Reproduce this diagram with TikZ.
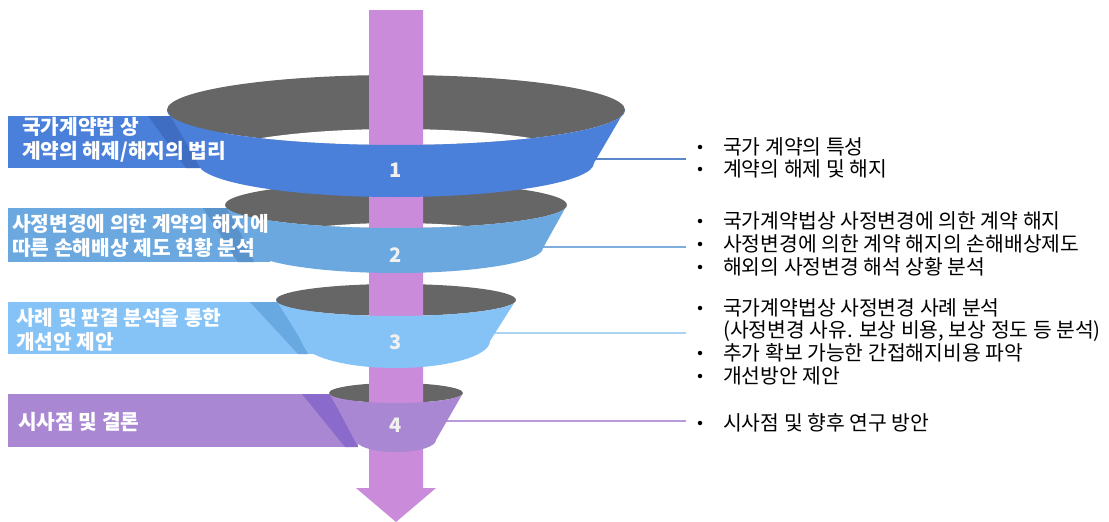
\documentclass[tikz,border=0pt]{standalone}
\usepackage{fontspec}
\setmainfont{Noto Sans CJK KR}
\definecolor{bandA}{HTML}{4A80DA}
\definecolor{bandB}{HTML}{6BA8DF}
\definecolor{bandC}{HTML}{85C2F6}
\definecolor{bandD}{HTML}{A987D2}
\definecolor{foldA}{HTML}{3F6DC2}
\definecolor{foldB}{HTML}{5A93CC}
\definecolor{foldC}{HTML}{68A9E2}
\definecolor{foldD}{HTML}{8A6BCB}
\definecolor{lineA}{HTML}{5B86CC}
\definecolor{lineB}{HTML}{7DAEDD}
\definecolor{lineC}{HTML}{A9D3EE}
\definecolor{lineD}{HTML}{B89AD8}
\definecolor{shaft}{HTML}{CA8CDA}
\definecolor{inside}{HTML}{666666}
\begin{document}
\begin{tikzpicture}[x=1pt,y=-1pt]
\tikzset{
    label text/.style={anchor=west, inner sep=0pt, align=left, text=white,
        font=\fontsize{20.3}{23.5}\selectfont\bfseries},
    num/.style={text=white!94!black, font=\fontsize{20}{20}\selectfont\bfseries},
    item text/.style={anchor=west, inner sep=0pt, font=\fontsize{20.4}{22}\selectfont},
    dot/.style={circle, fill=black, inner sep=0pt, minimum size=4.5pt},
    link/.style={line width=2pt}}
\useasboundingbox (0,0) rectangle (1109,522);

% stage boxes on the left, each with a darker fold where it meets the funnel
\fill[bandA] (8,116) rectangle (225,168);
\fill[foldA] (148,116)--(172,116)--(200,168)--(186,168)--cycle;
\fill[bandB] (8,208) rectangle (270,262);
\fill[foldB] (203,208)--(230,208)--(254,262)--(238,262)--cycle;
\fill[bandC] (8,302) rectangle (315,354);
\fill[foldC] (250,302)--(280,302)--(308,354)--(298,354)--cycle;
\fill[bandD] (8,394) rectangle (358,447);
\fill[foldD] (302,394)--(330,394)--(358,447)--(345,447)--cycle;

% funnels: top centre y / top radii / bottom centre y / bottom radii / colour
\def\cx{396}
\def\funnels{110/229/35/163/198/34/bandA, 205/171/23/248/147/25/bandB,
    300/120/16/341/94/27/bandC, 393/67/10/440/40/12/bandD}

% inner walls and the hole at the bottom of each funnel
\foreach \tcy/\trx/\try/\bcy/\brx/\bry/\col in \funnels{
    \fill[inside] (\cx,\tcy) ellipse[x radius=\trx, y radius=\try];
    \begin{scope}
        \clip (\cx,\tcy) ellipse[x radius=\trx, y radius=\try];
        \fill[white] (\cx,\bcy) ellipse[x radius=\brx, y radius=\bry];
    \end{scope}
}

% connectors to the bullet lists
\foreach \y/\col [count=\i] in {159/lineA, 247/lineB, 333/lineC, 421/lineD}{
    \coordinate (s\i) at (\cx,\y);
    \coordinate (t\i) at (686,\y);
    \draw[link, \col] (s\i) -- (t\i);
}

% the arrow through the funnels
\fill[shaft] (369,10)--(423,10)--(423,488)--(436,488)--(396,522)--(356,488)--(369,488)--cycle;

% front of each funnel
\foreach \tcy/\trx/\try/\bcy/\brx/\bry/\col in \funnels{
    \fill[\col] (\cx-\trx,\tcy) arc[start angle=180, end angle=0, x radius=\trx, y radius=\try]
        -- (\cx+\brx,\bcy) arc[start angle=0, end angle=180, x radius=\brx, y radius=\bry] -- cycle;
}
\foreach \y [count=\i] in {170,255,342,425}
    \node[num] (n\i) at (\cx,\y) {\i};

% stage titles
\node[label text] (lab1) at (22,140) {국가계약법 상\\계약의 해제/해지의 법리};
\node[label text] (lab2) at (12,236) {사정변경에 의한 계약의 해지에\\따른 손해배상 제도 현황 분석};
\node[label text] (lab3) at (16,330) {사례 및 판결 분석을 통한\\개선안 제안};
\node[label text] (lab4) at (18,422) {시사점 및 결론};

% bullet lists
\foreach \y [count=\i] in {147,169,221,244,267,308,353,376,423}
    \node[dot] (dot\i) at (700,\y) {};
\foreach \y/\t [count=\i] in {147/국가 계약의 특성, 169/계약의 해제 및 해지,
    221/국가계약법상 사정변경에 의한 계약 해지, 244/사정변경에 의한 계약 해지의 손해배상제도,
    267/해외의 사정변경 해석 상황 분석, 308/국가계약법상 사정변경 사례 분석,
    331/{(사정변경 사유. 보상 비용, 보상 정도 등 분석)}, 353/추가 확보 가능한 간접해지비용 파악,
    376/개선방안 제안, 423/시사점 및 향후 연구 방안}
    \node[item text] (item\i) at (723,\y) {\t};
\end{tikzpicture}
\end{document}
